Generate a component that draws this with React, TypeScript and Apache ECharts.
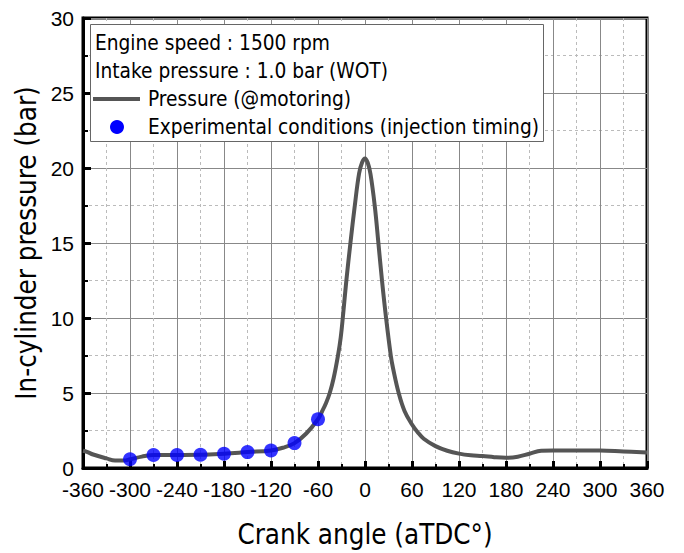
import React, { useEffect, useRef } from "react";
import * as echarts from "echarts";

const crankAngles = [
  -360, -355, -347, -330, -319, -308, -300, -285, -270, -240, -210, -180, -150, -120, -105, -90, -75, -60,
  -55, -50, -45, -40, -34.5, -31, -28, -23.8, -18.6, -13, -7.5, -3.5, 0, 3.5, 7, 12.4, 17.1, 21.7, 26.9,
  32.9, 35.8, 43, 50.6, 60, 67, 75, 90, 105, 120, 135, 150, 165, 180, 195, 210, 225, 240, 270, 300, 330, 360,
];
const motoringPressure = [
  1.15, 1.08, 0.9, 0.64, 0.5, 0.5, 0.58, 0.76, 0.87, 0.87, 0.88, 0.95, 1.06, 1.17, 1.35, 1.66, 2.3, 3.25,
  3.75, 4.3, 5.0, 6.0, 7.5, 8.7, 10.2, 12.5, 15.0, 17.5, 19.65, 20.4, 20.64, 20.35, 19.6, 17.5, 15.0, 12.5, 10.0,
  7.5, 6.65, 5.0, 3.78, 2.9, 2.4, 1.95, 1.46, 1.15, 0.96, 0.85, 0.8, 0.72, 0.68, 0.75, 0.95, 1.15, 1.17, 1.17, 1.17, 1.1, 1.03,
];
const injectionAngles = [-300, -270, -240, -210, -180, -150, -120, -90, -60];
const injectionPressure = [0.58, 0.87, 0.87, 0.88, 0.95, 1.06, 1.17, 1.66, 3.25];

const legendLines = [
  "Engine speed : 1500 rpm",
  "Intake pressure : 1.0 bar (WOT)",
  "Pressure (@motoring)",
  "Experimental conditions (injection timing)",
];

const textFont = "'DejaVu Sans Condensed', 'DejaVu Sans', sans-serif";
const tickFont = "'Liberation Sans', Arial, sans-serif";

export default function App() {
  const ref = useRef<HTMLDivElement>(null);
  useEffect(() => {
    if (!ref.current) return;
    const chart = echarts.init(ref.current, undefined, { renderer: "svg" });
    const lineData = crankAngles.map((a, i) => [a, motoringPressure[i]]);
    const dotData = injectionAngles.map((a, i) => [a, injectionPressure[i]]);
    const legendText = (t: string, x: number, y: number) => ({
      type: "text",
      x,
      y,
      z: 101,
      style: { text: t, fill: "#000", font: `20.7px ${textFont}`, textVerticalAlign: "middle" },
    });
    chart.setOption({
      animation: false,
      backgroundColor: "#fff",
      grid: {
        left: 83,
        top: 18,
        right: 37,
        bottom: 83,
        show: true,
        borderColor: "#000",
        borderWidth: 3,
        backgroundColor: "transparent",
      },
      xAxis: {
        type: "value",
        min: -360,
        max: 360,
        interval: 60,
        name: "Crank angle (aTDC°)",
        nameLocation: "middle",
        nameGap: 52,
        nameTextStyle: { fontFamily: textFont, fontSize: 27.5, color: "#000" },
        axisLine: { show: true, onZero: false, lineStyle: { color: "#000", width: 3 } },
        axisTick: { show: true, inside: true, length: 7, lineStyle: { color: "#000", width: 3 } },
        minorTick: { show: true, splitNumber: 2, length: 4, lineStyle: { color: "#000", width: 2 } },
        axisLabel: { fontFamily: tickFont, fontSize: 21, lineHeight: 21, color: "#000", margin: 11 },
        splitLine: { show: true, lineStyle: { color: "#888", width: 1 } },
        minorSplitLine: { show: true, lineStyle: { color: "#bbb", width: 1, type: [3, 3] } },
      },
      yAxis: {
        type: "value",
        min: 0,
        max: 30,
        interval: 5,
        name: "In-cylinder pressure (bar)",
        nameLocation: "middle",
        nameGap: 42,
        nameTextStyle: { fontFamily: textFont, fontSize: 27.5, color: "#000" },
        axisLine: { show: true, onZero: false, lineStyle: { color: "#000", width: 3 } },
        axisTick: { show: true, inside: true, length: 8, lineStyle: { color: "#000", width: 3 } },
        minorTick: { show: true, splitNumber: 2, length: 5, lineStyle: { color: "#000", width: 2 } },
        axisLabel: { fontFamily: tickFont, fontSize: 21, lineHeight: 19, color: "#000", margin: 9 },
        splitLine: { show: true, lineStyle: { color: "#888", width: 1 } },
        minorSplitLine: { show: true, lineStyle: { color: "#bbb", width: 1, type: [3, 3] } },
      },
      series: [
        {
          type: "line",
          name: "Pressure (@motoring)",
          data: lineData,
          smooth: 0.4,
          showSymbol: false,
          lineStyle: { color: "#555", width: 4 },
          z: 3,
        },
        {
          type: "scatter",
          name: "Experimental conditions (injection timing)",
          data: dotData,
          symbol: "circle",
          symbolSize: 14,
          itemStyle: { color: "#0000ff" },
          z: 4,
        },
      ],
      graphic: [
        {
          type: "rect",
          z: 100,
          shape: { x: 90.5, y: 24.5, width: 453, height: 117 },
          style: { fill: "#fff", stroke: "#666", lineWidth: 1 },
        },
        legendText(legendLines[0], 95, 43),
        legendText(legendLines[1], 95, 71),
        {
          type: "line",
          z: 101,
          shape: { x1: 93, y1: 99, x2: 140, y2: 99 },
          style: { stroke: "#555", lineWidth: 4 },
        },
        legendText(legendLines[2], 148, 99),
        {
          type: "circle",
          z: 101,
          shape: { cx: 117, cy: 127, r: 7 },
          style: { fill: "#0000ff" },
        },
        legendText(legendLines[3], 148, 127),
      ],
    });
    return () => chart.dispose();
  }, []);
  return <div ref={ref} style={{ width: 684, height: 553, position: "absolute", left: 0, top: 0 }} />;
}
